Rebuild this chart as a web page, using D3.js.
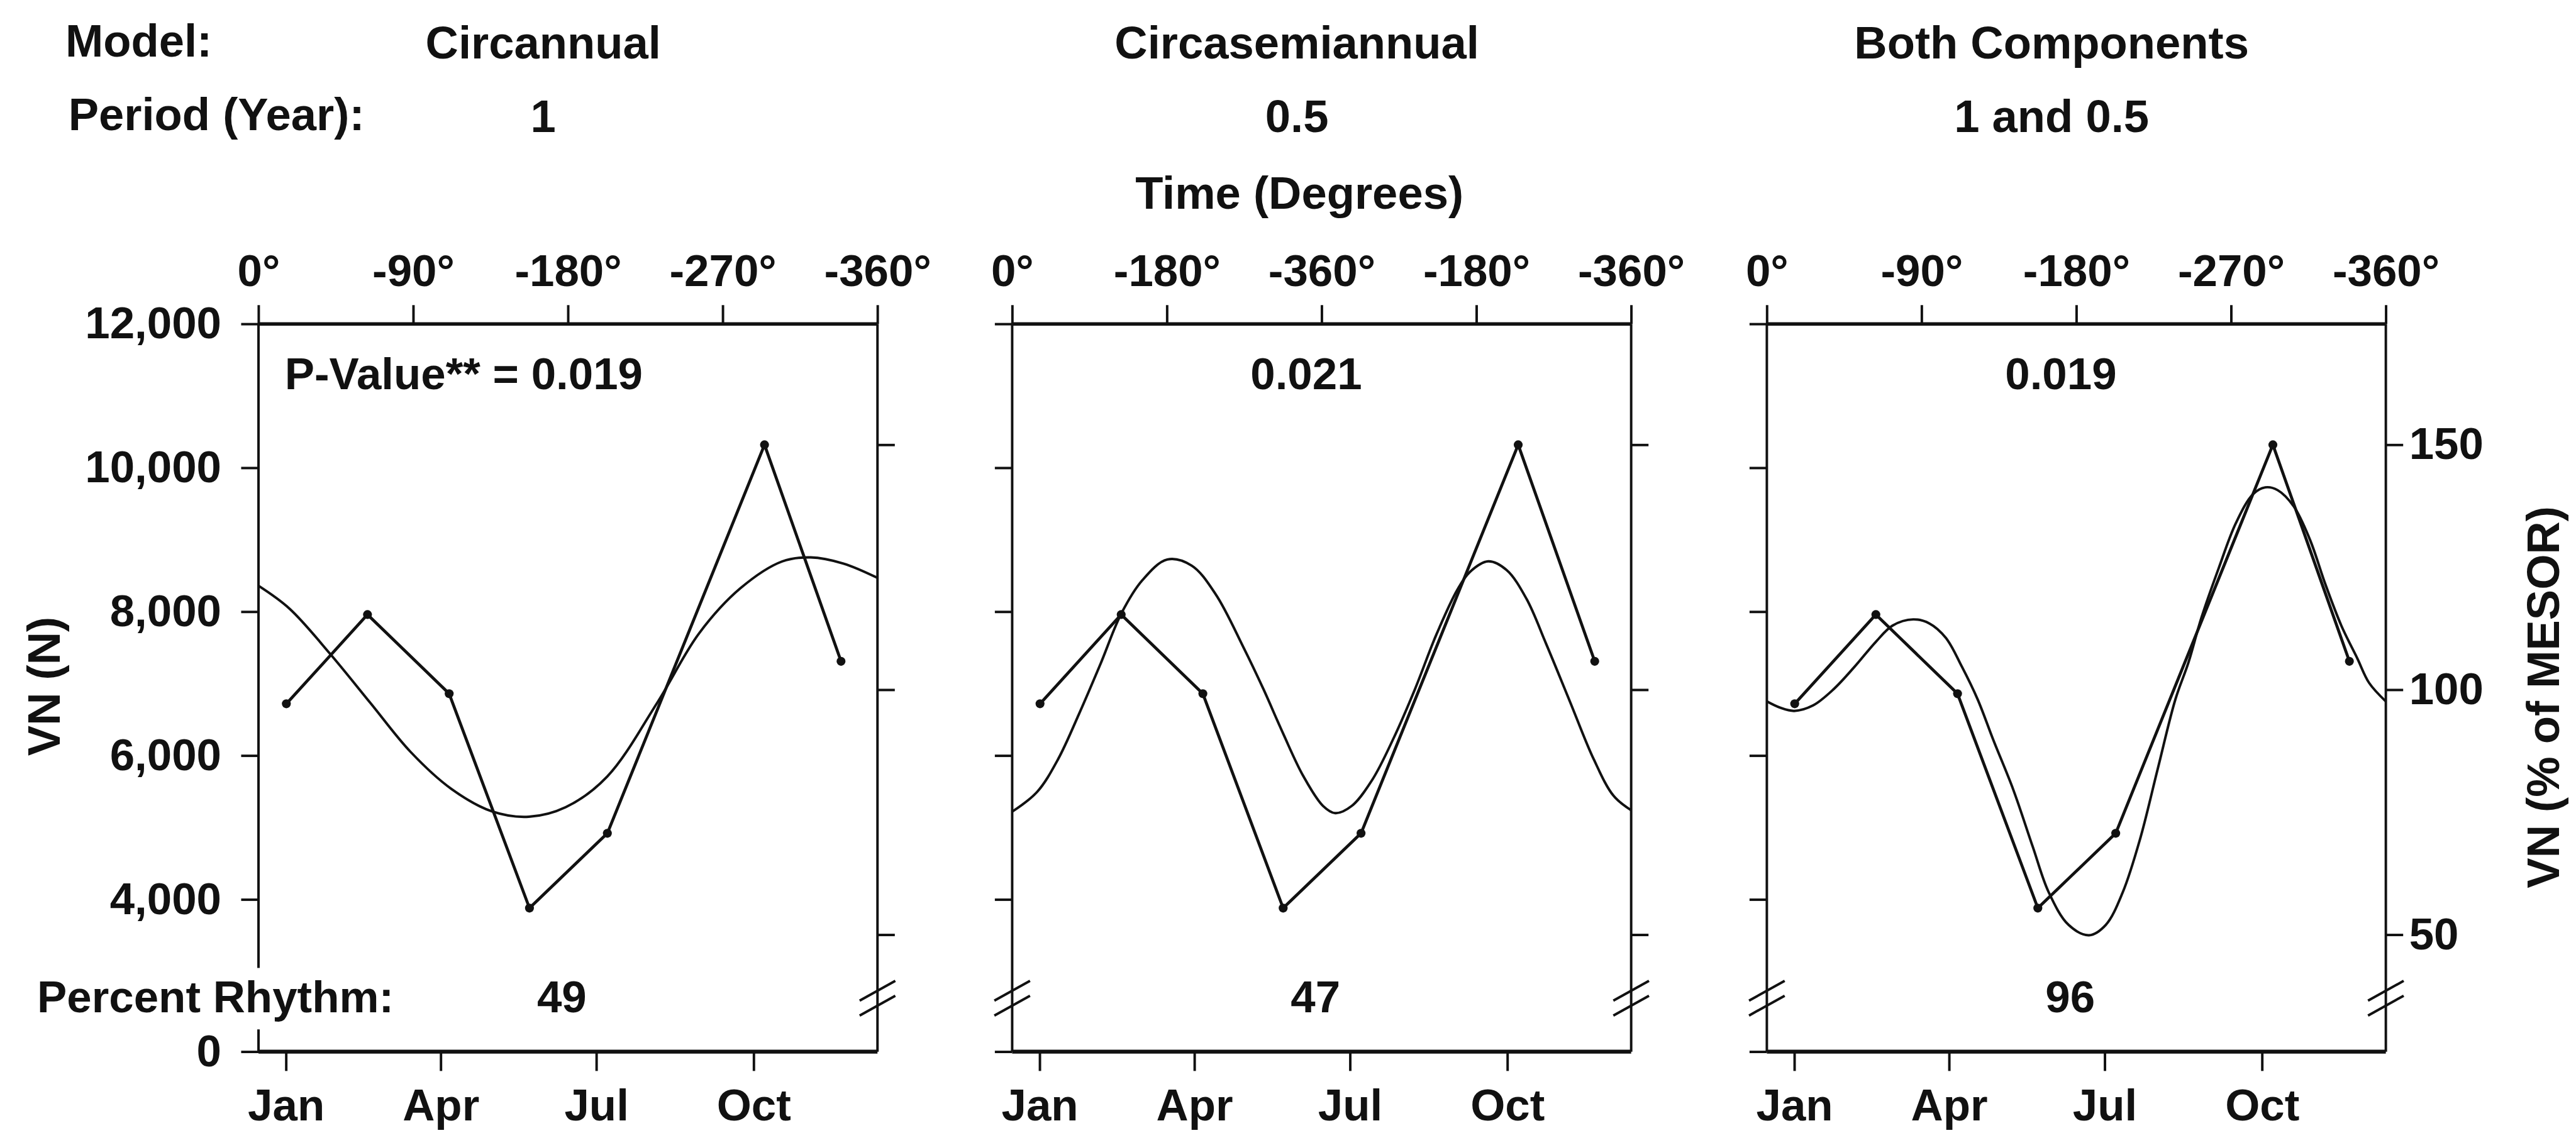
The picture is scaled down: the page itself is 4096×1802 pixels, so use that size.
<!DOCTYPE html>
<html>
<head>
<meta charset="utf-8">
<script src="https://cdn.jsdelivr.net/npm/d3@7"></script>
<style>
  html, body { margin: 0; padding: 0; background: #fff; }
  svg { display: block; }
  text { font-family: "Liberation Sans", Arial, Helvetica, sans-serif; font-weight: bold; fill: #111; }
</style>
</head>
<body>
<div id="chart"></div>
<script>
// ---- data ----
const modelNames   = ['Circannual', 'Circasemiannual', 'Both Components'];
const periodLabels = ['1', '0.5', '1 and 0.5'];
const pValueLabels = ['P-Value** = 0.019', '0.021', '0.019'];
const rhythmLabels = ['49', '47', '96'];

const degTickValues = [0, 90, 180, 270, 360];
const degTickLabels = [
  ['0°', '-90°', '-180°', '-270°', '-360°'],
  ['0°', '-180°', '-360°', '-180°', '-360°'],
  ['0°', '-90°', '-180°', '-270°', '-360°']
];
const monthLabels = ['Jan', 'Apr', 'Jul', 'Oct'];
const monthDeg    = [16, 106, 196.5, 288];
const vnTicks     = [0, 4000, 6000, 8000, 10000, 12000];
const pctTicks    = [50, 100, 150];
const pctAnchorVN = [3510, 10320];   // VN level of 50 % and 150 % of MESOR
const breakVN     = 2600;            // axis is broken below this

// observed values (same in all three panels)
const obsDeg = [16.2, 63.4, 110.9, 157.6, 202.9, 294.3, 338.8];
const obsVN  = [6720, 7960, 6860, 3880, 4920, 10320, 7310];

// fitted curves
const fitAnnualDeg = [0, 18, 41.6, 65, 88.5, 112.1, 135.7, 157.2, 178.7, 202.8, 231.9, 256.3, 280.4, 304.5, 321.2, 340.2, 360];
const fitAnnualVN  = [8360, 8043, 7416, 6734, 6050, 5538, 5225, 5150, 5283, 5709, 6734, 7701, 8328, 8698, 8755, 8669, 8470];

const fitSemiDeg = [0, 14.5, 26.7, 38.9, 51.3, 63.6, 75.8, 90.2, 104.4, 118.4, 134.6, 146.2, 157.7, 169.2, 180.8, 187.9,
                    197.5, 209.6, 221.8, 234.2, 246.5, 258.8, 266.1, 276.9, 287.5, 299.1, 310.6, 324.4, 338.2, 349.8, 360];
const fitSemiVN  = [5220, 5495, 5950, 6580, 7270, 7980, 8440, 8725, 8640, 8240, 7500, 6920, 6300, 5720, 5300, 5200,
                    5300, 5670, 6240, 6920, 7670, 8300, 8550, 8700, 8580, 8180, 7550, 6750, 5950, 5440, 5240];

const fitBothDeg = [0, 7.6, 15.9, 26.8, 38.9, 51.1, 63.3, 73.1, 85.1, 94.6, 104.1, 113.4, 122.6, 131.8, 143.3, 154.7, 163.9,
                    175.5, 187.4, 197.1, 207, 217.1, 227.3, 237.6, 245.2, 252.8, 262.8, 272.8, 282.7, 289.9, 297.1,
                    306.5, 315.8, 324.9, 334.1, 343.4, 350.3, 360];
const fitBothVN  = [6753, 6667, 6621, 6696, 6924, 7237, 7579, 7807, 7893, 7836, 7636, 7237, 6781, 6211, 5527, 4729, 4101,
                    3646, 3503, 3646, 4101, 4843, 5812, 6781, 7294, 7921, 8605, 9232, 9632, 9728, 9689,
                    9461, 9005, 8377, 7807, 7351, 7009, 6753];

const fits = [
  d3.zip(fitAnnualDeg, fitAnnualVN),
  d3.zip(fitSemiDeg, fitSemiVN),
  d3.zip(fitBothDeg, fitBothVN)
];
const observed = d3.zip(obsDeg, obsVN);

// ---- layout (reference pixel space, scaled by the viewBox) ----
const panelLeft = [522, 2044, 3568];
const panelW = 1250;
const plotTop = 654, plotBottom = 2124, breakY = 2020;
const FONT = 90;
const INK = '#111';

const svg = d3.select('#chart').append('svg')
  .attr('width', 4096)
  .attr('height', 1802)
  .attr('viewBox', '0 0 5202 2288');

svg.append('rect').attr('width', 5202).attr('height', 2288).attr('fill', '#fff');

const y = d3.scaleLinear()
  .domain([0, breakVN, 12000])
  .range([plotBottom, breakY, plotTop]);

const pct = d3.scaleLinear()
  .domain([pctTicks[0], pctTicks[2]])
  .range([y(pctAnchorVN[0]), y(pctAnchorVN[1])]);

function styleAxis(sel) {
  sel.attr('font-size', FONT)
    .attr('font-family', '"Liberation Sans", Arial, Helvetica, sans-serif')
    .attr('font-weight', 'bold')
    .attr('color', INK);
  sel.select('.domain').remove();
  sel.selectAll('.tick line').attr('stroke-width', 5);
}

// ---- header ----
svg.append('text').attr('x', 132).attr('y', 114).attr('font-size', FONT + 2).text('Model:');
svg.append('text').attr('x', 138).attr('y', 262).attr('font-size', FONT + 2).text('Period (Year):');
svg.append('text').attr('x', 2624).attr('y', 421).attr('text-anchor', 'middle')
  .attr('font-size', FONT + 2).text('Time (Degrees)');

// axis titles
svg.append('text')
  .attr('transform', 'translate(88,1386) rotate(-90)')
  .attr('text-anchor', 'middle').attr('dy', '0.35em')
  .attr('font-size', FONT + 2).text('VN (N)');
svg.append('text')
  .attr('transform', 'translate(5135,1408) rotate(-90)')
  .attr('text-anchor', 'middle').attr('dy', '0.35em')
  .attr('font-size', FONT + 2).text('VN (% of MESOR)');

svg.append('text').attr('x', 75).attr('y', 2045).attr('font-size', FONT).text('Percent Rhythm:');

// ---- panels ----
panelLeft.forEach((left, i) => {
  const g = svg.append('g').attr('transform', `translate(${left},0)`);
  const x = d3.scaleLinear().domain([0, 360]).range([0, panelW]);

  // header per model
  g.append('text').attr('x', panelW * 0.46).attr('y', 118)
    .attr('text-anchor', 'middle').attr('font-size', FONT + 2).text(modelNames[i]);
  g.append('text').attr('x', panelW * 0.46).attr('y', 266)
    .attr('text-anchor', 'middle').attr('font-size', FONT + 2).text(periodLabels[i]);

  // left VN ticks
  g.append('g')
    .call(d3.axisLeft(y).tickValues(vnTicks).tickSize(35).tickSizeOuter(0).tickPadding(40)
      .tickFormat(i === 0 ? d3.format(',') : () => ''))
    .call(styleAxis);

  // right % of MESOR ticks
  g.append('g')
    .attr('transform', `translate(${panelW},0)`)
    .call(d3.axisRight(pct).tickValues(pctTicks).tickSize(35).tickSizeOuter(0).tickPadding(12)
      .tickFormat(i === 2 ? d3.format('d') : () => ''))
    .call(styleAxis);

  // top degree axis
  g.append('g')
    .attr('transform', `translate(0,${plotTop})`)
    .call(d3.axisTop(x).tickValues(degTickValues).tickSize(38).tickSizeOuter(0).tickPadding(38)
      .tickFormat((d, k) => degTickLabels[i][k]))
    .call(styleAxis);

  // bottom month axis
  g.append('g')
    .attr('transform', `translate(0,${plotBottom})`)
    .call(d3.axisBottom(x).tickValues(monthDeg).tickSize(39).tickSizeOuter(0).tickPadding(36)
      .tickFormat((d, k) => monthLabels[k]))
    .call(styleAxis);

  // frame
  const frame = g.append('g').attr('stroke', INK).attr('fill', 'none');
  frame.append('line').attr('x1', x(0)).attr('x2', x(360))
    .attr('y1', y(12000)).attr('y2', y(12000)).attr('stroke-width', 7);
  frame.append('line').attr('x1', x(0)).attr('x2', x(360))
    .attr('y1', y(0)).attr('y2', y(0)).attr('stroke-width', 8);
  frame.append('line').attr('x1', x(360)).attr('x2', x(360))
    .attr('y1', y(12000)).attr('y2', y(0)).attr('stroke-width', 5);
  if (i === 0) {
    // left axis interrupted by the "Percent Rhythm" label
    frame.append('line').attr('x1', x(0)).attr('x2', x(0))
      .attr('y1', y(12000)).attr('y2', breakY - 65).attr('stroke-width', 5);
    frame.append('line').attr('x1', x(0)).attr('x2', x(0))
      .attr('y1', breakY + 59).attr('y2', y(0)).attr('stroke-width', 5);
  } else {
    frame.append('line').attr('x1', x(0)).attr('x2', x(0))
      .attr('y1', y(12000)).attr('y2', y(0)).attr('stroke-width', 5);
  }

  // axis break marks
  const breakAt = i === 0 ? [x(360)] : [x(0), x(360)];
  breakAt.forEach(bx => {
    [-15, 15].forEach(off => {
      frame.append('line')
        .attr('x1', bx - 36).attr('y1', y(breakVN) - 4 + off + 20)
        .attr('x2', bx + 36).attr('y2', y(breakVN) - 4 + off - 20)
        .attr('stroke-width', 5);
    });
  });

  // fitted curve
  g.append('path')
    .datum(fits[i])
    .attr('fill', 'none').attr('stroke', INK).attr('stroke-width', 5)
    .attr('d', d3.line().x(d => x(d[0])).y(d => y(d[1])).curve(d3.curveCatmullRom.alpha(0.5)));

  // observed data
  g.append('path')
    .datum(observed)
    .attr('fill', 'none').attr('stroke', INK).attr('stroke-width', 6)
    .attr('stroke-linejoin', 'round')
    .attr('d', d3.line().x(d => x(d[0])).y(d => y(d[1])));
  g.append('g').selectAll('circle').data(observed).join('circle')
    .attr('cx', d => x(d[0])).attr('cy', d => y(d[1])).attr('r', 9).attr('fill', INK);

  // p-value and percent rhythm
  g.append('text')
    .attr('x', i === 0 ? 53 : panelW * 0.475).attr('y', 786)
    .attr('text-anchor', i === 0 ? 'start' : 'middle')
    .attr('font-size', FONT).text(pValueLabels[i]);
  g.append('text')
    .attr('x', panelW * 0.49).attr('y', 2045)
    .attr('text-anchor', 'middle').attr('font-size', FONT).text(rhythmLabels[i]);
});
</script>
</body>
</html>
